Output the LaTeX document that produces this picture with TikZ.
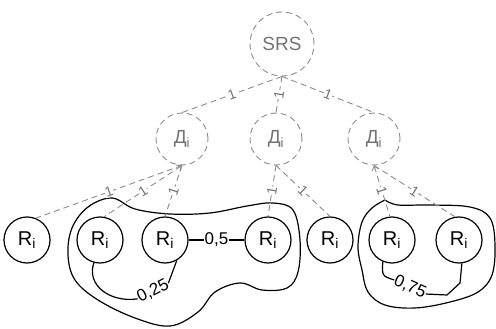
\documentclass[tikz,border=0pt]{standalone}
\usepackage{fontspec}
\setmainfont{Liberation Sans}
\usetikzlibrary{arrows.meta}
\definecolor{dg}{gray}{0.55}
\definecolor{tg}{gray}{0.45}
\begin{document}
\begin{tikzpicture}[x=1pt,y=-1pt,
  dnode/.style={circle,draw=dg,dash pattern=on 6pt off 4pt,line width=0.9pt,minimum size=52pt,inner sep=0pt,text=tg,font=\fontsize{19}{19}\selectfont},
  snode/.style={dnode,minimum size=64pt},
  rnode/.style={circle,draw=black,line width=1.2pt,minimum size=46pt,inner sep=0pt,font=\fontsize{20}{20}\selectfont},
  dedge/.style={draw=dg,dash pattern=on 6pt off 4pt,line width=0.9pt},
  lab/.style={font=\fontsize{14}{14}\selectfont,text=tg,fill=white,inner sep=0.5pt,sloped,midway},
  wlab/.style={font=\fontsize{17}{17}\selectfont,inner sep=0.5pt},
  blob/.style={draw=black,line width=1.2pt},
  wline/.style={draw=black,line width=1.2pt},
  arr/.style={{Straight Barb[length=4pt,width=7pt]}-}
]
\useasboundingbox (0,0) rectangle (496,329);
% blobs
\path[blob] plot[smooth cycle,tension=0.6] coordinates {(112,198) (135,209) (170,214) (210,213) (247,206) (273,203) (293,210) (300,240) (298,272) (287,288) (262,290) (240,283) (215,292) (198,312) (170,326) (135,318) (98,300) (75,280) (68,255) (72,228) (88,207)};
\path[blob] plot[smooth,tension=0.6] coordinates {(385,200) (398,205) (430,205) (470,207) (490,218) (495,245) (492,275) (478,292) (450,302) (415,308) (385,305) (368,292) (362,270) (358,247) (362,222) (372,208) (385,200)};
% nodes
\node[snode] (srs) at (282,44) {SRS};
\node[dnode] (d1) at (182,139) {Д\textsubscript{i}};
\node[dnode] (d2) at (276,139) {Д\textsubscript{i}};
\node[dnode] (d3) at (374,139) {Д\textsubscript{i}};
\node[rnode] (r1) at (27,240) {R\textsubscript{i}};
\node[rnode] (r2) at (100,240) {R\textsubscript{i}};
\node[rnode] (r3) at (165,240) {R\textsubscript{i}};
\node[rnode] (r4) at (268,240) {R\textsubscript{i}};
\node[rnode] (r5) at (330,240) {R\textsubscript{i}};
\node[rnode] (r6) at (392,240) {R\textsubscript{i}};
\node[rnode] (r7) at (459,240) {R\textsubscript{i}};
% tree edges
\path[dedge] (srs.south) -- node[lab]{1} (d1.north);
\path[dedge] (srs.south) -- node[lab]{1} (d2.north);
\path[dedge] (srs.south) -- node[lab]{1} (d3.north);
\path[dedge] (d1.south) -- node[lab]{1} (r1.68);
\path[dedge,arr] (d1.south) -- node[lab]{1} (r2.80);
\path[dedge] (d1.south) -- node[lab]{1} (r3.north);
\path[dedge] (d2.south) -- node[lab]{1} (r4.north);
\path[dedge] (d2.south) -- node[lab]{1} (r5.north);
\path[dedge,arr] (d3.south) -- node[lab]{1} (r6.95);
\path[dedge] (d3.south) -- node[lab]{1} (r7.100);
% weights
\path[wline] (r3.east) -- node[wlab,fill=white]{0,5} (r4.west);
\node[wlab,rotate=27] (l25) at (153,291) {0,25};
\path[wline] (r2.255) .. controls (86,285) and (110,303) .. (l25.west);
\path[wline] (l25.east) -- (r3.300);
\node[wlab,rotate=-24] (l75) at (410,287) {0,75};
\path[wline] (r6.247) .. controls (382,276) .. (l75.west);
\path[wline] (l75.east) -- (447,295) -- (460,283) -- (r7.277);
\end{tikzpicture}
\end{document}
